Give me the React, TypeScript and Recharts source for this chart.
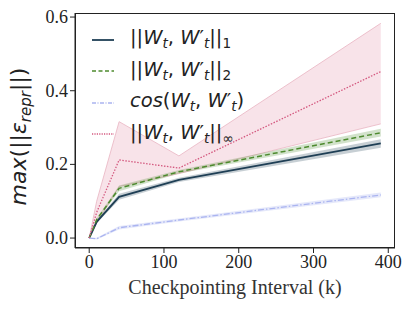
import { ComposedChart, Line, Area, XAxis, YAxis, Label } from 'recharts'

const intervals = [0, 10, 40, 120, 390]
const l1Mean = [0, 0.044, 0.112, 0.158, 0.257]
const l1Low = [0, 0.04, 0.104, 0.152, 0.245]
const l1High = [0, 0.048, 0.12, 0.164, 0.268]
const l2Mean = [0, 0.05, 0.135, 0.18, 0.286]
const l2Low = [0, 0.046, 0.127, 0.175, 0.276]
const l2High = [0, 0.054, 0.143, 0.185, 0.297]
const cosMean = [0, -0.002, 0.028, 0.049, 0.117]
const cosLow = [0, -0.004, 0.023, 0.045, 0.111]
const cosHigh = [0, 0.001, 0.033, 0.053, 0.124]
const infMean = [0, 0.07, 0.212, 0.19, 0.452]
const infLow = [0, 0.04, 0.14, 0.175, 0.31]
const infHigh = [0, 0.1, 0.316, 0.223, 0.583]

const xTicks = [0, 100, 200, 300, 400]
const yTicks = [0, 0.2, 0.4, 0.6]

const data = intervals.map((x, i) => ({
  x,
  l1: l1Mean[i],
  l1Band: [l1Low[i], l1High[i]],
  l2: l2Mean[i],
  l2Band: [l2Low[i], l2High[i]],
  cos: cosMean[i],
  cosBand: [cosLow[i], cosHigh[i]],
  inf: infMean[i],
  infBand: [infLow[i], infHigh[i]],
}))

const C = {
  l1: '#1f3f55',
  l2: '#4d8a2e',
  cos: '#aab4f0',
  inf: '#d4587f',
}

const mathFont = '"DejaVu Sans", sans-serif'
const serif = '"Liberation Serif", "DejaVu Serif", serif'

const subStyle = { fontSize: '0.7em', verticalAlign: '-0.3em' }

const Norm = ({ sub }: { sub: string }) => (
  <span>
    ||<i>W</i>
    <span style={subStyle}><i>t</i></span>, <i>W</i>′
    <span style={subStyle}><i>t</i></span>||
    <span style={subStyle}>{sub}</span>
  </span>
)

const legendItems = [
  { color: C.l1, dash: '', width: 1.8, label: <Norm sub="1" /> },
  { color: C.l2, dash: '4 2.5', width: 1.5, label: <Norm sub="2" /> },
  {
    color: C.cos,
    dash: '4 1.5 1 1.5',
    width: 1.3,
    label: (
      <span>
        <i>cos</i>(<i>W</i>
        <span style={subStyle}><i>t</i></span>, <i>W</i>′
        <span style={subStyle}><i>t</i></span>)
      </span>
    ),
  },
  { color: C.inf, dash: '1.2 1.2', width: 1.3, label: <Norm sub="∞" /> },
]

const ChartLegend = () => (
  <div
    style={{
      position: 'absolute',
      left: 91,
      top: 24,
      fontFamily: mathFont,
      fontSize: 19.5,
      color: '#222',
      lineHeight: 1,
    }}
  >
    {legendItems.map((it, i) => (
      <div key={i} style={{ display: 'flex', alignItems: 'center', height: 31.5 }}>
        <svg width={24} height={10} style={{ marginRight: 15 }}>
          <line x1={1} y1={5} x2={23} y2={5} stroke={it.color} strokeWidth={it.width} strokeDasharray={it.dash} />
        </svg>
        {it.label}
      </div>
    ))}
  </div>
)

const YTick = (props: any) => {
  const { x, y, payload } = props
  return (
    <text x={x} y={y + 6} textAnchor="end" fontFamily={serif} fontSize={18} fill="#222">
      {Number(payload.value).toFixed(1)}
    </text>
  )
}

const YLabel = (props: any) => {
  const { viewBox } = props
  const cx = 26
  const cy = viewBox.y + viewBox.height / 2 + 6
  return (
    <text
      x={cx}
      y={cy}
      transform={`rotate(-90, ${cx}, ${cy})`}
      textAnchor="middle"
      fontFamily={mathFont}
      fontSize={22}
      fill="#222"
    >
      <tspan fontStyle="italic">max</tspan>
      <tspan>(||</tspan>
      <tspan fontStyle="italic">ε</tspan>
      <tspan fontStyle="italic" fontSize={15} dy={5}>repr</tspan>
      <tspan dy={-5}>||)</tspan>
    </text>
  )
}

export default function App() {
  return (
    <div style={{ position: 'absolute', left: 0, top: 0, width: 415, height: 311, background: '#fff' }}>
      <ComposedChart width={415} height={311} data={data} margin={{ top: 13, right: 20, bottom: 0, left: 0 }}>
        <XAxis
          dataKey="x"
          type="number"
          domain={[-19, 409]}
          ticks={xTicks}
          interval={0}
          height={63}
          tickSize={5}
          axisLine={{ stroke: '#222' }}
          tickLine={{ stroke: '#222' }}
          tick={{ fill: '#222', fontFamily: serif, fontSize: 18 }}
        />
        <YAxis
          type="number"
          domain={[-0.027, 0.611]}
          ticks={yTicks}
          interval={0}
          width={75}
          tickSize={5}
          stroke="#222"
          tick={YTick}
          allowDataOverflow
        >
          <Label content={<YLabel />} />
        </YAxis>

        <Area dataKey="infBand" stroke="#e8b4c2" strokeWidth={0.8} fill="#e59cb0" fillOpacity={0.28} isAnimationActive={false} />
        <Area dataKey="l2Band" stroke="none" fill={C.l2} fillOpacity={0.25} isAnimationActive={false} />
        <Area dataKey="l1Band" stroke="none" fill={C.l1} fillOpacity={0.25} isAnimationActive={false} />
        <Area dataKey="cosBand" stroke="none" fill={C.cos} fillOpacity={0.3} isAnimationActive={false} />

        <Line dataKey="l1" stroke={C.l1} strokeWidth={1.8} dot={false} isAnimationActive={false} />
        <Line dataKey="l2" stroke={C.l2} strokeWidth={1.5} strokeDasharray="5 3" dot={false} isAnimationActive={false} />
        <Line dataKey="cos" stroke={C.cos} strokeWidth={1.3} strokeDasharray="6 2 1.5 2" dot={false} isAnimationActive={false} />
        <Line dataKey="inf" stroke={C.inf} strokeWidth={1.3} strokeDasharray="1.5 1.5" dot={false} isAnimationActive={false} />
      </ComposedChart>
      <div
        style={{
          position: 'absolute',
          left: 75,
          top: 13,
          width: 320,
          height: 235,
          border: '1.2px solid #222',
          boxSizing: 'border-box',
          pointerEvents: 'none',
        }}
      />
      <div
        style={{
          position: 'absolute',
          left: 75,
          width: 320,
          top: 277,
          textAlign: 'center',
          fontFamily: serif,
          fontSize: 20,
          color: '#333',
          lineHeight: 1,
        }}
      >
        Checkpointing Interval (k)
      </div>
      <ChartLegend />
    </div>
  )
}
